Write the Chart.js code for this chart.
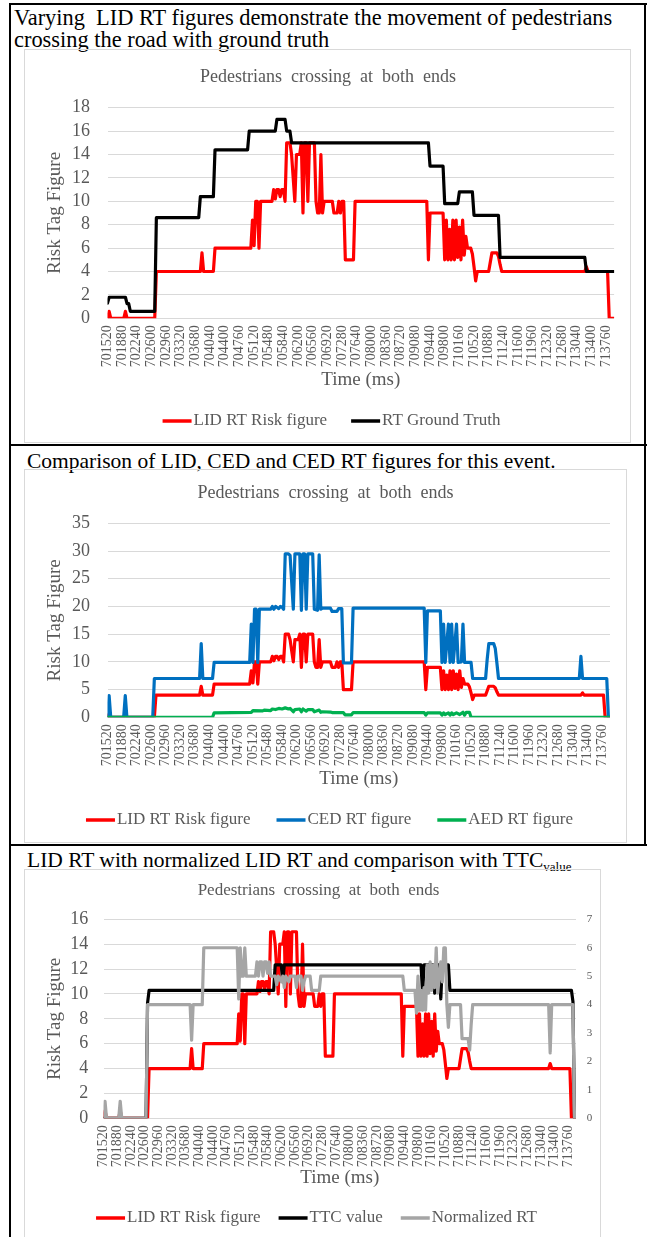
<!DOCTYPE html>
<html>
<head>
<meta charset="utf-8">
<title>Pedestrians crossing at both ends</title>
<script src="https://cdn.jsdelivr.net/npm/chart.js@4.4.1/dist/chart.umd.min.js"></script>
<style>
  html, body { margin: 0; padding: 0; background: #fff; }
  body { width: 650px; height: 1237px; position: relative; overflow: hidden;
         font-family: 'Liberation Serif', 'Times New Roman', serif; }
  .rule { position: absolute; background: #000; }
  .cap { position: absolute; font-size: 21.5px; line-height: 22px; color: #000; white-space: nowrap; }
  .cap.lead { font-size: 22.4px; }
  .cap sub { font-size: 13px; vertical-align: -4px; line-height: 0; }
  .frame { position: absolute; border: 1px solid #d9d9d9; box-sizing: border-box; }
  canvas { position: absolute; }
</style>
</head>
<body>
  <!-- table rules -->
  <div class="rule" style="left:9px;top:3px;width:638px;height:2px"></div>
  <div class="rule" style="left:9px;top:3px;width:2px;height:1240px"></div>
  <div class="rule" style="left:644px;top:3px;width:2px;height:843px"></div>
  <div class="rule" style="left:9px;top:444px;width:638px;height:2px"></div>
  <div class="rule" style="left:9px;top:844px;width:638px;height:2px"></div>

  <div class="cap lead" style="left:14px;top:7px">Varying&nbsp; LID RT figures demonstrate the movement of pedestrians<br>crossing the road with ground truth</div>
  <div class="frame" style="left:24px;top:49px;width:607px;height:394px"></div>
  <canvas id="chartGroundTruth" width="605" height="392" style="left:25px;top:50px"></canvas>

  <div class="cap" style="left:27px;top:450px">Comparison of LID, CED and CED RT figures for this event.</div>
  <div class="frame" style="left:24px;top:469px;width:603px;height:374px"></div>
  <canvas id="chartCompare" width="601" height="372" style="left:25px;top:470px"></canvas>

  <div class="cap" style="left:27px;top:849px">LID RT with normalized LID RT and comparison with TTC<sub>value</sub></div>
  <div class="frame" style="left:24px;top:869px;width:577px;height:374px"></div>
  <canvas id="chartTtc" width="575" height="372" style="left:25px;top:870px"></canvas>

<script>
// Time axis (ms): labelled every 360 ms
const timeLabels = [701520, 701880, 702240, 702600, 702960, 703320, 703680, 704040, 704400,
  704760, 705120, 705480, 705840, 706200, 706560, 706920, 707280, 707640, 708000, 708360,
  708720, 709080, 709440, 709800, 710160, 710520, 710880, 711240, 711600, 711960, 712320,
  712680, 713040, 713400, 713760];
const timeStart = 701520;
const timeEnd = 713960;

// LID RT risk figure: [time (ms), risk tag]
const lidRisk = [
  [701520, 0], [701560, 0.6], [701600, 0], [701920, 0], [701960, 0.6], [702000, 0],
  [702680, 0], [702720, 4], [703800, 4], [703840, 5.6], [703880, 4], [704120, 4], [704160, 6],
  [705040, 6], [705080, 8.4], [705120, 6.2], [705160, 10], [705200, 10], [705240, 6], [705280, 10],
  [705560, 10], [705600, 11], [705640, 10.2], [705680, 11], [705720, 11], [705760, 10.4],
  [705800, 11], [705840, 11], [705880, 10],
  [705920, 15], [706000, 15], [706040, 14], [706120, 10], [706160, 14], [706240, 14], [706280, 15],
  [706320, 9], [706360, 15], [706400, 15], [706440, 10], [706480, 15], [706600, 15], [706640, 10],
  [706680, 9], [706720, 9], [706760, 14], [706800, 9], [706840, 10],
  [707040, 10], [707080, 9], [707160, 9], [707200, 10], [707240, 9], [707280, 10], [707320, 10],
  [707360, 5], [707560, 5], [707600, 10],
  [709360, 10], [709400, 5], [709440, 9], [709760, 9], [709800, 5], [709840, 8.4], [709880, 5],
  [709920, 7.6], [709960, 5], [710000, 8.4], [710040, 5], [710080, 8.4], [710120, 5.2],
  [710160, 7.8], [710200, 5], [710240, 8.4], [710280, 5.4], [710320, 7], [710360, 6], [710440, 6],
  [710480, 5.5], [710520, 4.4], [710560, 3.2], [710600, 4],
  [710880, 4], [710920, 4.8], [710960, 5.6], [711080, 5.6], [711120, 5.3], [711160, 4.6], [711200, 4],
  [713240, 4], [713280, 4.4], [713320, 4], [713800, 4], [713840, 0], [713960, 0]
];

// RT ground truth
const groundTruth = [
  [701520, 1.3], [701560, 1.8], [701960, 1.8], [702000, 1.25], [702040, 1.25], [702080, 0.6],
  [702680, 0.6], [702720, 8.6], [703760, 8.6], [703800, 10.4], [704120, 10.4], [704160, 14.4],
  [704960, 14.4], [705000, 16], [705640, 16], [705680, 17], [705880, 17], [705920, 16],
  [706000, 16], [706040, 15], [709400, 15], [709440, 13], [709760, 13], [709800, 9.8],
  [710120, 9.8], [710160, 10.8], [710480, 10.8], [710520, 8.8], [711120, 8.8], [711160, 5.2],
  [713240, 5.2], [713280, 4], [713960, 4]
];

// CED RT figure
const cedRisk = [
  [701520, 0], [701560, 3.9], [701600, 0], [701920, 0], [701960, 3.9], [702000, 0],
  [702640, 0], [702680, 7], [703800, 7], [703840, 13.3], [703880, 7], [704120, 7], [704160, 9.9],
  [705040, 9.9], [705080, 16.8], [705120, 9.9], [705160, 19.5], [705200, 19.5], [705240, 9.9],
  [705280, 19.5], [705560, 19.5], [705600, 20], [705640, 19.5], [705680, 20], [705720, 19.8],
  [705760, 19.6], [705800, 20], [705840, 19.9], [705880, 19.5],
  [705920, 29.5], [706000, 29.5], [706040, 29.2], [706120, 19.5], [706160, 29.5], [706280, 29.5],
  [706320, 19.3], [706360, 29.5], [706400, 29.5], [706440, 19.5], [706480, 29.5], [706600, 29.5],
  [706640, 19.5], [706720, 19.3], [706760, 29.3], [706800, 19.5], [706840, 19.7],
  [707040, 19.7], [707080, 19.1], [707200, 19.1], [707240, 19.6], [707320, 19.6], [707360, 9.8],
  [707560, 9.8], [707600, 19.7],
  [709360, 19.7], [709400, 9.9], [709440, 19.2], [709760, 19.2], [709800, 9.9], [709840, 16.8],
  [709880, 9.9], [709960, 16.8], [710000, 9.9], [710040, 16.8], [710080, 9.9], [710160, 16.8],
  [710200, 9.9], [710280, 10], [710320, 16.8], [710360, 9.9], [710520, 9.9], [710560, 7],
  [710880, 7], [710920, 10.5], [710960, 13.3], [711080, 13.3], [711120, 12.4], [711160, 9.8],
  [711200, 7], [713200, 7], [713240, 11], [713280, 7], [713880, 7], [713920, 0], [713960, 0]
];

// AED RT figure
const aedRisk = [
  [701520, 0], [704120, 0], [704160, 0.8], [704600, 0.85], [705080, 0.9], [705120, 1.2],
  [705360, 1.15], [705400, 1.3], [705560, 1.2], [705600, 1.5], [705680, 1.4], [705760, 1.6],
  [705840, 1.5], [705920, 1.7], [706000, 1.5], [706040, 1.6], [706120, 1.0], [706160, 1.4],
  [706280, 1.5], [706320, 1.0], [706360, 1.5], [706440, 1.1], [706480, 1.4], [706600, 1.4],
  [706640, 1.0], [706760, 1.3], [706800, 0.9], [706840, 1.0], [707040, 0.95], [707080, 0.85],
  [707360, 0.85], [707400, 0.45], [707560, 0.45], [707600, 0.85], [709360, 0.85], [709400, 0.4],
  [709440, 0.8], [709760, 0.8], [709800, 0.4], [709840, 0.8], [709880, 0.5], [709960, 0.8],
  [710000, 0.4], [710040, 0.8], [710080, 0.5], [710160, 0.8], [710240, 0.5], [710320, 0.9],
  [710360, 0.4], [710400, 0.9], [710480, 0.9], [710520, 0], [713960, 0]
];

// TTC value (right axis)
const ttcValue = [
  [701520, 0], [702640, 0], [702680, 4.05], [702720, 4.5], [706000, 4.5], [706040, 5.4],
  [706200, 5.4], [706240, 4.8], [706280, 5.4], [709880, 5.4], [709920, 4.4], [709960, 5.4],
  [710200, 5.4], [710240, 4.4], [710280, 5.4], [710360, 5.4], [710400, 4.2], [710440, 5.4],
  [710600, 5.4], [710640, 4.5], [713840, 4.5], [713880, 4.1], [713920, 0], [713960, 0]
];

// Normalized RT (right axis)
const normalizedRt = [
  [701520, 0], [701560, 0.6], [701600, 0], [701920, 0], [701960, 0.6], [702000, 0],
  [702640, 0], [702680, 4], [703800, 4], [703840, 2.75], [703880, 4], [704120, 4], [704160, 6],
  [705040, 6], [705080, 4.2], [705120, 6], [705160, 5], [705200, 5], [705240, 6], [705280, 5],
  [705520, 5], [705560, 5.5], [705600, 5], [705640, 5.5], [705680, 5.5], [705720, 5],
  [705760, 5.5], [705800, 5.5], [705840, 5.1], [705880, 5.5], [705920, 5], [706040, 5],
  [706080, 4.7], [706120, 5], [706200, 4.8], [706240, 5], [706280, 4.6], [706320, 5],
  [706400, 4.8], [706440, 5], [706560, 5], [706600, 4.6], [706640, 5], [706720, 5],
  [706760, 4.5], [706800, 4.8], [706840, 5], [706960, 5], [707000, 4.5], [707200, 4.5],
  [707240, 5], [709400, 5], [709440, 4.5], [709720, 4.5], [709760, 3.7], [709800, 5],
  [709840, 3.8], [709880, 4.5], [709920, 3.8], [709960, 4.6], [710000, 3.8], [710040, 5.4],
  [710080, 4.4], [710120, 5.5], [710160, 4.5], [710200, 5.4], [710240, 4.6], [710280, 6],
  [710320, 4.4], [710360, 5], [710400, 5.5], [710440, 4.8], [710480, 6], [710520, 6],
  [710560, 4], [710600, 3.2], [710640, 4], [710920, 4], [710960, 2.8], [711120, 2.8],
  [711160, 2.4], [711200, 3.3], [711240, 4], [713240, 4], [713280, 2.3], [713320, 4],
  [713880, 4], [713920, 0], [713960, 0]
];

const SERIF = "'Liberation Serif', 'Times New Roman', serif";
const INK = '#595959';
const GRID = '#d9d9d9';
const TITLE = 'Pedestrians  crossing  at  both  ends';

const toPoints = arr => arr.map(([x, y]) => ({ x, y }));

function series(label, data, color, order, axis) {
  return {
    label, data: toPoints(data), yAxisID: axis || 'y', order,
    borderColor: color, backgroundColor: color, borderWidth: 3.2,
    pointRadius: 0, pointHoverRadius: 0, tension: 0,
    borderJoinStyle: 'round', borderCapStyle: 'round'
  };
}

function timeAxis(height, titleGap) {
  return {
    type: 'linear', min: timeStart, max: timeEnd,
    afterBuildTicks: s => { s.ticks = timeLabels.map(value => ({ value })); },
    afterFit: s => { s.height = height; },
    grid: { display: false, drawTicks: false },
    border: { display: false },
    ticks: {
      autoSkip: false, minRotation: 90, maxRotation: 90, padding: 7,
      color: INK, font: { family: SERIF, size: 14 }, callback: v => String(v)
    },
    title: {
      display: true, text: 'Time (ms)', color: INK,
      font: { family: SERIF, size: 19 }, padding: { top: 0, bottom: titleGap }
    }
  };
}

function riskAxis(max, step, width, pad) {
  return {
    position: 'left', min: 0, max,
    afterFit: s => { s.width = width; },
    ticks: { stepSize: step, autoSkip: false, padding: pad, color: INK, font: { family: SERIF, size: 18 } },
    grid: { color: GRID, lineWidth: 1, drawTicks: false },
    border: { display: false },
    title: {
      display: true, text: 'Risk Tag Figure', color: INK,
      font: { family: SERIF, size: 19 }, padding: { top: 2.6, bottom: 0 }
    }
  };
}

function chartTitle(size, top, bottom) {
  return {
    display: true, text: TITLE, color: INK,
    font: { family: SERIF, size, weight: 'normal' }, padding: { top, bottom }
  };
}

// Legend drawn as a short line swatch followed directly by its label
const lineLegend = {
  id: 'lineLegend',
  afterDraw(chart, _args, opts) {
    const { ctx, width } = chart;
    const items = chart.data.datasets;
    ctx.save();
    ctx.font = `${opts.size}px ${SERIF}`;
    ctx.textBaseline = 'middle';
    ctx.textAlign = 'left';
    const widths = items.map(d => opts.line + opts.gap + ctx.measureText(d.label).width);
    const total = widths.reduce((a, b) => a + b, 0) + opts.space * (items.length - 1);
    let x = width / 2 + opts.shift - total / 2;
    items.forEach((d, i) => {
      ctx.strokeStyle = d.borderColor;
      ctx.lineWidth = 3.5;
      ctx.lineCap = 'butt';
      ctx.beginPath();
      ctx.moveTo(x, opts.y);
      ctx.lineTo(x + opts.line, opts.y);
      ctx.stroke();
      ctx.fillStyle = INK;
      ctx.fillText(d.label, x + opts.line + opts.gap, opts.y);
      x += widths[i] + opts.space;
    });
    ctx.restore();
  }
};

function baseOptions(padding, title, legend) {
  return {
    responsive: false, animation: false, devicePixelRatio: 1,
    layout: { padding },
    plugins: {
      title,
      legend: { display: false },
      tooltip: { enabled: false },
      lineLegend: legend
    }
  };
}

// Chart 1: LID RT vs ground truth
new Chart(document.getElementById('chartGroundTruth'), {
  type: 'line',
  data: {
    datasets: [
      series('LID RT Risk figure', lidRisk, '#ff0000', 2),
      series('RT Ground Truth', groundTruth, '#000000', 1)
    ]
  },
  options: Object.assign(
    baseOptions({ left: 16, right: 15, top: 0, bottom: 48.6 }, chartTitle(18, 16.5, 19.6),
      { y: 371, size: 17, line: 29, gap: 2, space: 24, shift: 4 }),
    { scales: { x: timeAxis(75.1, 2), y: riskAxis(18, 2, 66.5, 17.5) } }
  ),
  plugins: [lineLegend]
});

// Chart 2: LID, CED and AED RT figures
new Chart(document.getElementById('chartCompare'), {
  type: 'line',
  data: {
    datasets: [
      series('LID RT Risk figure', lidRisk, '#ff0000', 3),
      series('CED RT figure', cedRisk, '#0070c0', 2),
      series('AED RT figure', aedRisk, '#00b050', 1)
    ]
  },
  options: Object.assign(
    baseOptions({ left: 16, right: 16, top: 0, bottom: 49.6 }, chartTitle(18, 12.5, 19.2),
      { y: 350, size: 17, line: 29, gap: 2, space: 26, shift: 4 }),
    { scales: { x: timeAxis(75.1, 2), y: riskAxis(35, 5, 66.5, 17.5) } }
  ),
  plugins: [lineLegend]
});

// Chart 3: LID RT with TTC value and normalized RT on the secondary axis
new Chart(document.getElementById('chartTtc'), {
  type: 'line',
  data: {
    datasets: [
      series('LID RT Risk figure', lidRisk, '#ff0000', 3, 'y'),
      series('TTC value', ttcValue, '#000000', 2, 'y1'),
      series('Normalized RT', normalizedRt, '#a5a5a5', 1, 'y1')
    ]
  },
  options: Object.assign(
    baseOptions({ left: 16, right: 4, top: 0, bottom: 50.6 }, chartTitle(17, 10.5, 18.4),
      { y: 348, size: 17, line: 29, gap: 2, space: 18, shift: 4 }),
    {
      scales: {
        x: timeAxis(73.1, 2),
        y: riskAxis(16, 2, 62.5, 15.2),
        y1: {
          position: 'right', min: 0, max: 7,
          afterFit: s => { s.width = 20; },
          ticks: { stepSize: 1, autoSkip: false, padding: 10.7, color: INK, font: { family: SERIF, size: 11 } },
          grid: { display: false, drawTicks: false },
          border: { display: false }
        }
      }
    }
  ),
  plugins: [lineLegend]
});
</script>
</body>
</html>
